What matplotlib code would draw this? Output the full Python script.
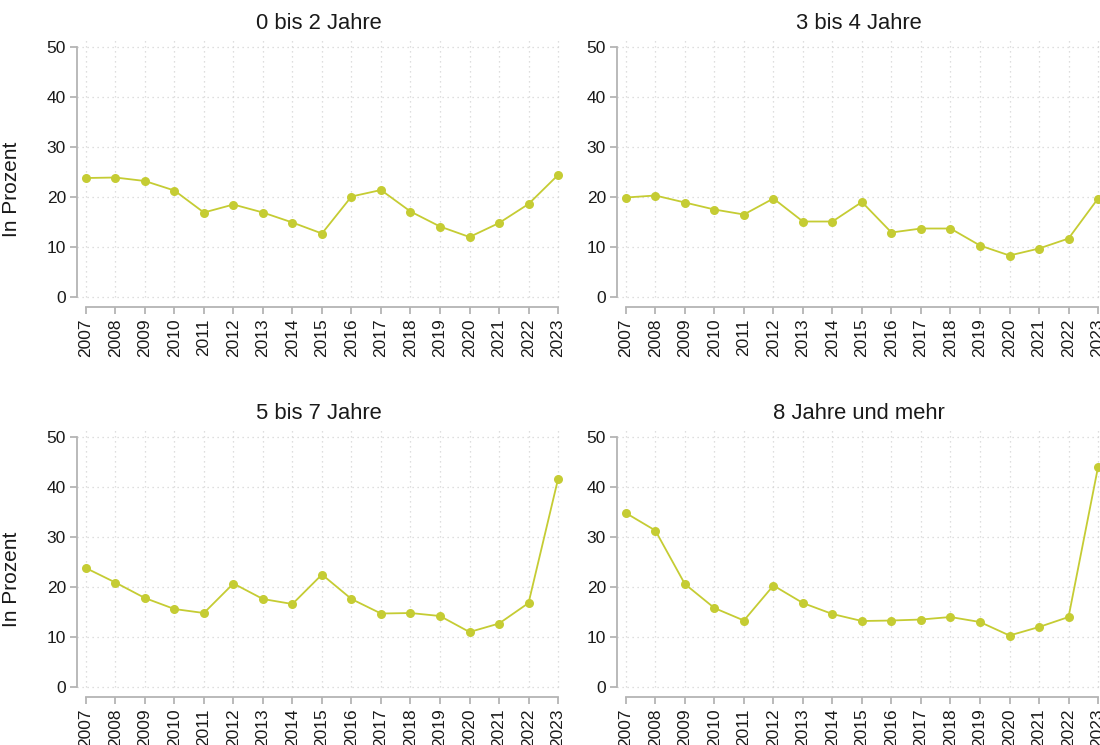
import matplotlib
matplotlib.use("Agg")
import matplotlib.pyplot as plt

plt.rcParams['font.family'] = ['Liberation Sans', 'DejaVu Sans']

# Data (in percent)
years = list(range(2007, 2024))
titles = ["0 bis 2 Jahre", "3 bis 4 Jahre", "5 bis 7 Jahre", "8 Jahre und mehr"]
age_0_2 = [23.8, 23.9, 23.2, 21.3, 16.9, 18.5, 16.9, 14.9, 12.7, 20.1, 21.4, 17.1, 14.1, 12.0, 14.8, 18.6, 24.4]
age_3_4 = [19.9, 20.3, 18.9, 17.5, 16.5, 19.7, 15.1, 15.1, 19.0, 12.9, 13.7, 13.7, 10.3, 8.3, 9.7, 11.7, 19.7]
age_5_7 = [23.8, 20.9, 17.8, 15.6, 14.8, 20.7, 17.6, 16.6, 22.5, 17.6, 14.7, 14.8, 14.2, 11.0, 12.7, 16.8, 41.6]
age_8_plus = [34.8, 31.3, 20.6, 15.8, 13.3, 20.3, 16.8, 14.6, 13.2, 13.3, 13.5, 14.0, 13.0, 10.3, 12.0, 14.0, 44.0]
series = [age_0_2, age_3_4, age_5_7, age_8_plus]
yticks = [0, 10, 20, 30, 40, 50]

LINE_COLOR = "#c5cc33"
AXIS_COLOR = "#b4b4b4"
GRID_COLOR = "#d4d4d4"
TEXT_COLOR = "#1a1a1a"

fig = plt.figure(figsize=(11, 7.45), dpi=100)

# axes rectangles in figure fractions: left, bottom, width, height
positions = [
    (0.070, 0.5879, 0.440, 0.3584),
    (0.5609, 0.5879, 0.440, 0.3584),
    (0.070, 0.0644, 0.440, 0.3584),
    (0.5609, 0.0644, 0.440, 0.3584),
]

for i, (pos, title, vals) in enumerate(zip(positions, titles, series)):
    ax = fig.add_axes(pos)
    ax.set_xlim(2006.7, 2023.1)
    ax.set_ylim(-2, 51.4)

    # dotted grid
    for yv in yticks:
        ax.axhline(yv, color=GRID_COLOR, linestyle=(0, (1, 3)), linewidth=0.9, zorder=0)
    ax.vlines(years, 0, 51.4, color=GRID_COLOR, linestyles=[(0, (1, 3))], linewidth=0.9, zorder=0)

    ax.plot(years, vals, color=LINE_COLOR, linewidth=1.3, marker="o",
            markersize=6.5, markeredgewidth=0, zorder=3, clip_on=False)

    # Stata-like detached axes
    for side in ["top", "right"]:
        ax.spines[side].set_visible(False)
    ax.spines["left"].set_bounds(0, 50)
    ax.spines["bottom"].set_bounds(2007, 2023)
    for side in ["left", "bottom"]:
        ax.spines[side].set_color(AXIS_COLOR)
        ax.spines[side].set_linewidth(1.3)

    ax.set_yticks(yticks)
    ax.set_xticks(years)
    ax.set_xticklabels([str(y) for y in years], rotation=90)
    ax.tick_params(axis="both", colors=AXIS_COLOR, length=5, width=1.3,
                   labelcolor=TEXT_COLOR, labelsize=12.5)
    ax.tick_params(axis="x", pad=3)
    ax.tick_params(axis="y", pad=3)

    ax.set_title(title, fontsize=15.8, color=TEXT_COLOR, pad=8)

    if i % 2 == 0:
        ax.set_ylabel("In Prozent", fontsize=15, color=TEXT_COLOR)
        ax.yaxis.set_label_coords(-0.115, 0.44)

fig.savefig("out.png", dpi=100, facecolor="white")
